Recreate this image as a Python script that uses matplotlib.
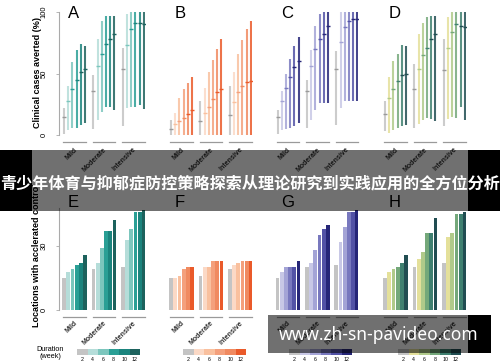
import matplotlib
matplotlib.use("Agg")
import matplotlib.pyplot as plt
from matplotlib.patches import Rectangle

plt.rcParams['font.family'] = ['Liberation Sans', 'DejaVu Sans']

W, H = 500, 362

durations = [2, 4, 6, 8, 10, 12]
groups = ['Mild', 'Moderate', 'Intensive']

# top row: clinical cases averted (%), median / low / high per group x duration
A_med = [[15, 28, 37, 45, 51, 54], [36, 56, 66, 74, 78, 82], [54, 73, 86, 91, 91, 90]]
A_lo = [[1, 4, 6, 6, 8, 10], [5, 12, 19, 23, 23, 20], [7, 22, 23, 23, 24, 21]]
A_hi = [[22, 40, 59, 69, 74, 72], [49, 78, 93, 97, 97, 97], [71, 98, 100, 100, 100, 100]]

B_med = [[5, 9, 11, 14, 17, 20], [11, 18, 23, 29, 35, 37], [16, 27, 35, 40, 43, 44]]
B_lo = [[0, 0, 0, 0, 0, 0], [0, 0, 0, 0, 0, 0], [0, 0, 0, 0, 0, 0]]
B_hi = [[12, 18, 30, 37, 42, 47], [28, 38, 51, 61, 70, 78], [40, 51, 66, 77, 86, 93]]

C_med = [[15, 28, 38, 47, 55, 60], [36, 56, 70, 78, 82, 89], [54, 76, 88, 93, 94, 94]]
C_lo = [[1, 4, 5, 6, 7, 10], [6, 12, 20, 26, 26, 26], [8, 22, 28, 28, 28, 28]]
C_hi = [[20, 36, 50, 62, 72, 80], [45, 69, 89, 98, 100, 100], [68, 100, 100, 100, 100, 100]]

D_med = [[17, 30, 37, 44, 49, 50], [37, 54, 65, 71, 78, 82], [53, 71, 84, 90, 89, 88]]
D_lo = [[3, 2, 4, 6, 7, 8], [6, 9, 12, 14, 13, 11], [7, 13, 15, 14, 23, 12]]
D_hi = [[28, 47, 60, 66, 73, 72], [58, 82, 91, 96, 97, 97], [78, 96, 100, 100, 100, 100]]

# bottom row: locations with accelerated control
E_vals = [[15, 18, 19, 21, 22, 26], [19, 22, 29, 37, 37, 42], [20, 33, 38, 46, 46, 47]]
F_vals = [[15, 15, 16, 19, 20, 20], [16, 20, 20, 23, 23, 23], [19, 21, 22, 23, 23, 23]]
G_vals = [[15, 18, 20, 20, 20, 23], [20, 22, 28, 35, 38, 40], [21, 32, 39, 46, 46, 47]]
H_vals = [[15, 18, 19, 20, 22, 26], [20, 24, 27, 36, 36, 43], [22, 34, 36, 45, 45, 46]]

teal = ['#c4c4c4', '#b5ddd9', '#7cc6bd', '#2a9f95', '#1b847d', '#1d625d']
orange = ['#c4c4c4', '#fbd9c6', '#f9c09e', '#f4a07c', '#f08a60', '#ea5a2a']
purple = ['#c4c4c4', '#c8c8e6', '#a4a4d6', '#7878be', '#5252a6', '#262678']
sage = ['#c4c4c4', '#e4e09a', '#b0ca8a', '#74a87a', '#3f8070', '#214d52']

title = '青少年体育与抑郁症防控策略探索从理论研究到实践应用的全方位分析'
watermark = 'www.zh-sn-pavideo.com'

fig = plt.figure(figsize=(W / 100, H / 100), dpi=100)


def px_axes(left, top, right, bottom):
    return fig.add_axes([left / W, 1 - bottom / H, (right - left) / W, (bottom - top) / H])


def group_x(g):
    return [7 * g + i for i in range(6)]


lefts = [59, 166, 272.5, 380]
unit = 4.2
x_lo, x_hi = -1.2, 19.2

# ---------- top row ----------
top_panels = [('A', A_med, A_lo, A_hi, teal), ('B', B_med, B_lo, B_hi, orange),
              ('C', C_med, C_lo, C_hi, purple), ('D', D_med, D_lo, D_hi, sage)]
ppu_top = 1.23
for k, (letter, med, lo, hi, cols) in enumerate(top_panels):
    left = lefts[k]
    ax = px_axes(left, 135 - 103 * ppu_top, left + (x_hi - x_lo) * unit, 135 + 3 * ppu_top)
    ax.set_xlim(x_lo, x_hi)
    ax.set_ylim(-3, 103)
    for g in range(3):
        xs = group_x(g)
        for i in range(6):
            ax.vlines(xs[i], lo[g][i], hi[g][i], color=cols[i], lw=1.5, alpha=0.85)
            ax.plot(xs[i], med[g][i], marker='_', ms=3.2, mew=1.0,
                    color=cols[min(i + 1, 5)] if i > 0 else '#9a9a9a')
        ax.plot([xs[0] - 0.2, xs[-1] + 0.2], [-5.7, -5.7], color='#9a9a9a', lw=0.9, clip_on=False)
        ax.text(xs[0] + 2.9, -11.2, groups[g], rotation=45, rotation_mode='anchor',
                ha='right', va='center', fontsize=5, fontweight='bold', color='#333333')
    for s in ['top', 'right', 'bottom']:
        ax.spines[s].set_visible(False)
    ax.set_xticks([])
    if k == 0:
        ax.spines['left'].set_color('#aaaaaa')
        ax.spines['left'].set_bounds(0, 100)
        ax.set_yticks([0, 50, 100])
        ax.set_yticklabels(['0', '50', '100'], rotation=90, va='center', fontsize=5.5)
        ax.tick_params(axis='y', length=2, width=0.6, color='#aaaaaa', pad=6)
    else:
        ax.spines['left'].set_visible(False)
        ax.set_yticks([])
    ax.patch.set_visible(False)
    fig.text((left + 9) / W, 1 - 13 / H, letter, fontsize=12, ha='left', va='center')

fig.text(37 / W, 1 - 72 / H, 'Clinical cases averted (%)', rotation=90, ha='center', va='center',
         fontsize=6.5, fontweight='bold')

# ---------- bottom row ----------
bottom_panels = [('E', E_vals, teal), ('F', F_vals, orange), ('G', G_vals, purple), ('H', H_vals, sage)]
ppu_bot = 64 / 30
leg_lefts = [77, 183, 289, 398]
for k, (letter, vals, cols) in enumerate(bottom_panels):
    left = lefts[k]
    ax = px_axes(left, 310 - 48 * ppu_bot, left + (x_hi - x_lo) * unit, 310 + 1.5 * ppu_bot)
    ax.set_xlim(x_lo, x_hi)
    ax.set_ylim(-1.5, 48)
    for g in range(3):
        xs = group_x(g)
        ax.bar(xs, vals[g], width=0.9, color=cols)
        ax.plot([xs[0] - 0.2, xs[-1] + 0.2], [-3.4, -3.4], color='#9a9a9a', lw=0.9, clip_on=False)
        ax.text(xs[0] + 2.9, -5.6, groups[g], rotation=45, rotation_mode='anchor',
                ha='right', va='center', fontsize=5, fontweight='bold', color='#333333')
    for s in ['top', 'right', 'bottom']:
        ax.spines[s].set_visible(False)
    ax.set_xticks([])
    if k == 0:
        ax.spines['left'].set_color('#aaaaaa')
        ax.spines['left'].set_bounds(0, 48)
        ax.set_yticks([0, 30])
        ax.set_yticklabels(['0', '30'], rotation=90, va='center', fontsize=5.5)
        ax.tick_params(axis='y', length=2, width=0.6, color='#aaaaaa', pad=6)
    else:
        ax.spines['left'].set_visible(False)
        ax.set_yticks([])
    ax.patch.set_visible(False)
    fig.text((left + 9) / W, 1 - 203 / H, letter, fontsize=12, ha='left', va='center')

    # duration legend strip
    lx = leg_lefts[k]
    lax = px_axes(lx, 349, lx + 63, 355)
    lax.bar(range(6), [1] * 6, width=1.0, color=cols)
    lax.set_xlim(-0.5, 5.5)
    lax.set_ylim(0, 1)
    lax.set_yticks([])
    lax.set_xticks(range(6))
    lax.set_xticklabels([str(d) for d in durations], fontsize=3.8)
    lax.tick_params(axis='x', length=0, pad=1.5)
    for s in lax.spines.values():
        s.set_visible(False)

fig.text(37 / W, 1 - 327 / H, 'Locations with acclerated control', rotation=90, ha='center',
         va='bottom', fontsize=6.5, fontweight='bold')
fig.text(50 / W, 1 - 353 / H, 'Duration\n(week)', ha='center', va='center', fontsize=5.2,
         linespacing=0.9)

# ---------- overlay banner ----------
def px_rect(x0, y0, x1, y1, **kw):
    fig.add_artist(Rectangle((x0 / W, 1 - y1 / H), (x1 - x0) / W, (y1 - y0) / H,
                             transform=fig.transFigure, lw=0, zorder=10, **kw))


px_rect(0, 150, 32, 211, color='black')
px_rect(468, 150, 500, 211, color='black')
px_rect(32, 150, 468, 211, color='black', alpha=0.56)
fig.text(0.5, 1 - 183 / H, title, ha='center', va='center', color='white', fontsize=11.6,
         fontweight='bold', family=['Noto Sans CJK SC', 'DejaVu Sans'], zorder=11)

px_rect(268, 315, 468, 353, color='black', alpha=0.56)
px_rect(468, 315, 491, 353, color='black')
fig.text(379 / W, 1 - 335 / H, watermark, ha='center', va='center', color='white', fontsize=12.5,
         fontweight='bold', family=['Noto Sans', 'DejaVu Sans'], zorder=11)

fig.savefig('out.png', dpi=100, facecolor='white')
